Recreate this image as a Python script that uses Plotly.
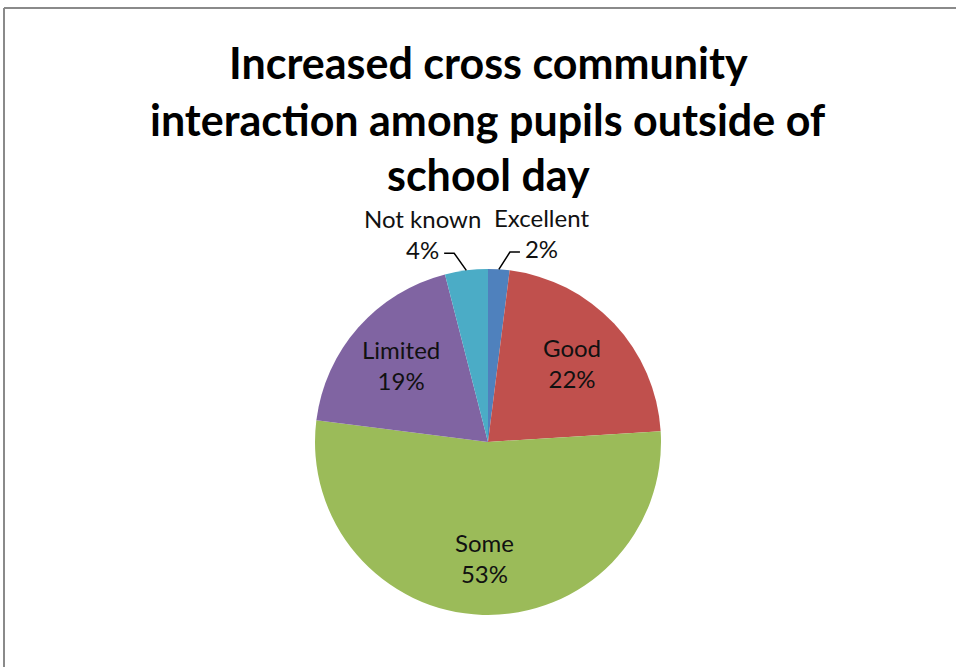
import math
import plotly.graph_objects as go

# Chart data
categories = ["Excellent", "Good", "Some", "Limited", "Not known"]
values = [2, 22, 53, 19, 4]
colors = ["#4F81BD", "#C0504D", "#9BBB59", "#8064A2", "#4BACC6"]
title_lines = ["Increased cross community",
               "interaction among pupils outside of",
               "school day"]

W, H = 956, 667
CX, CY, R = 488, 442, 173          # pie centre and radius (px)
TEXT = "#111111"


def px(x):
    return x / W


def py(y):
    return 1 - y / H


fig = go.Figure(go.Pie(
    labels=categories,
    values=values,
    sort=False,
    direction="clockwise",
    rotation=0,
    marker=dict(colors=colors, line=dict(width=0)),
    textinfo="none",
    hoverinfo="label+percent",
    showlegend=False,
    domain=dict(x=[px(CX - R), px(CX + R)], y=[py(CY + R), py(CY - R)]),
))

annotations = []
shapes = []

# Title, one annotation per line
title_y = [63, 119, 174]
for line, y in zip(title_lines, title_y):
    annotations.append(dict(
        x=px(CX), y=py(y), xref="paper", yref="paper",
        text=f"<b>{line}</b>", showarrow=False, borderpad=0,
        xanchor="center", yanchor="middle",
        font=dict(family="Lato", size=43, color="#000000"),
    ))

# Data labels: inside for large slices, outside with leader lines for small ones
total = sum(values)
start = 0.0
for cat, v in zip(categories, values):
    share = v / total
    mid = (start + share / 2) * 2 * math.pi
    start += share
    sx, sy = math.sin(mid), -math.cos(mid)
    pct = f"{round(share * 100)}%"
    if share >= 0.1:
        lx, ly = CX + 0.67 * R * sx, CY + 0.67 * R * sy
        annotations.append(dict(
            x=px(lx), y=py(ly), xref="paper", yref="paper",
            text=f"{cat}<br>{pct}", showarrow=False, align="center",
            xanchor="center", yanchor="middle",
            font=dict(family="Lato", size=24, color=TEXT),
        ))
    else:
        side = 1 if sx >= 0 else -1
        x0, y0 = CX + R * sx, CY + R * sy
        x1, y1 = CX + 1.1 * R * sx + side * 10, CY + 1.1 * R * sy
        x2 = x1 + side * 10
        shapes.append(dict(
            type="path", xref="paper", yref="paper",
            path=f"M {px(x0)},{py(y0)} L {px(x1)},{py(y1)} L {px(x2)},{py(y1)}",
            line=dict(color="#000000", width=1.5),
        ))
        annotations.append(dict(
            x=px(x2 + side * 22), y=py(y1 - 19), xref="paper", yref="paper",
            text=f"{cat}<br>{pct}", showarrow=False, align="center",
            borderpad=0, xanchor="center", yanchor="middle",
            font=dict(family="Lato", size=24, color=TEXT),
        ))

# Chart frame (top and left edges)
frame = "#8a8a8a"
shapes.append(dict(type="line", xref="paper", yref="paper",
                   x0=px(4), y0=py(8), x1=1, y1=py(8),
                   line=dict(color=frame, width=2)))
shapes.append(dict(type="line", xref="paper", yref="paper",
                   x0=px(4), y0=py(8), x1=px(4), y1=0,
                   line=dict(color=frame, width=2)))

fig.update_layout(
    width=W, height=H,
    margin=dict(l=0, r=0, t=0, b=0),
    paper_bgcolor="#ffffff",
    plot_bgcolor="#ffffff",
    annotations=annotations,
    shapes=shapes,
)

fig.write_html("out.html")
